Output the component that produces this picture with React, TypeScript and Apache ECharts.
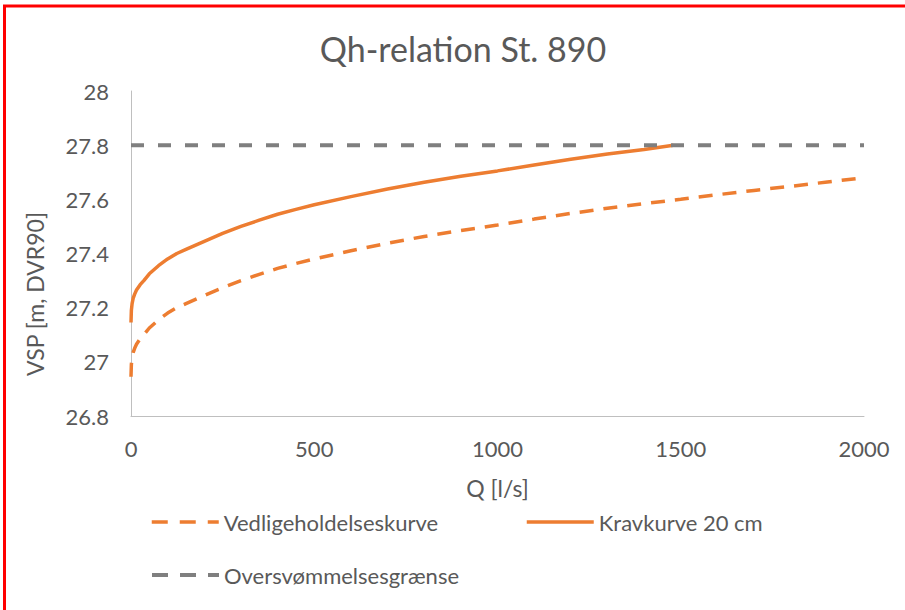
import React, { useEffect, useRef } from "react";
import * as echarts from "echarts";

const qVedligehold = [0, 1, 3, 6, 10, 15, 25, 35, 50, 75, 100, 125, 150, 200, 250, 300, 350, 400, 450, 500, 600, 700, 800, 900, 1000, 1100, 1200, 1300, 1400, 1500, 1600, 1700, 1800, 1900, 2000];
const hVedligehold = [26.945, 26.99, 27.015, 27.035, 27.05, 27.065, 27.085, 27.1, 27.125, 27.155, 27.18, 27.2, 27.215, 27.245, 27.274, 27.3, 27.323, 27.345, 27.363, 27.38, 27.41, 27.438, 27.463, 27.485, 27.505, 27.527, 27.548, 27.567, 27.584, 27.6, 27.617, 27.633, 27.648, 27.664, 27.68];

const qKrav = [0, 1, 3, 6, 10, 15, 25, 35, 50, 75, 100, 125, 150, 200, 250, 300, 350, 400, 450, 500, 600, 700, 800, 900, 1000, 1100, 1200, 1300, 1400, 1480];
const hKrav = [27.145, 27.19, 27.215, 27.235, 27.25, 27.265, 27.285, 27.3, 27.325, 27.355, 27.38, 27.4, 27.415, 27.445, 27.474, 27.5, 27.523, 27.545, 27.563, 27.58, 27.61, 27.638, 27.663, 27.685, 27.705, 27.727, 27.748, 27.767, 27.784, 27.8];

const qGraense = [0, 2000];
const hGraense = [27.8, 27.8];

const seriesNames = ["Vedligeholdelseskurve", "Kravkurve 20 cm", "Oversvømmelsesgrænse"];
const chartTitle = "Qh-relation St. 890";
const xTitle = "Q [l/s]";
const yTitle = "VSP [m, DVR90]";

const FONT = "Lato, 'Liberation Sans', sans-serif";
const TEXT = "#595959";
const ORANGE = "#ED7D31";
const GRAY = "#7F7F7F";

const zip = (xs: number[], ys: number[]) => xs.map((x, i) => [x, ys[i]]);

export default function App() {
  const ref = useRef<HTMLDivElement>(null);
  useEffect(() => {
    if (!ref.current) return;
    const chart = echarts.init(ref.current, undefined, { renderer: "svg" });
    const legendBase = {
      padding: 0,
      itemWidth: 67,
      itemHeight: 14,
      itemStyle: { opacity: 0 },
      textStyle: { color: TEXT, fontSize: 22, fontFamily: FONT },
    };
    chart.setOption({
      animation: false,
      backgroundColor: "#ffffff",
      title: {
        text: chartTitle,
        left: 458,
        top: 26,
        textAlign: "center",
        textStyle: { color: TEXT, fontSize: 34, fontWeight: "normal", fontFamily: FONT },
      },
      grid: { left: 131, right: 41, top: 91, bottom: 194, containLabel: false },
      xAxis: {
        type: "value",
        min: 0,
        max: 2000,
        interval: 500,
        name: xTitle,
        nameLocation: "middle",
        nameGap: 60,
        nameTextStyle: { color: TEXT, fontSize: 23, fontFamily: FONT },
        axisLine: { show: true, lineStyle: { color: "#BFBFBF", width: 1 } },
        axisTick: { show: false },
        splitLine: { show: false },
        axisLabel: {
          color: TEXT,
          fontSize: 22,
          fontFamily: FONT,
          margin: 21,
          formatter: (v: number) => String(v),
        },
      },
      yAxis: {
        type: "value",
        min: 26.8,
        max: 28,
        interval: 0.2,
        axisLine: { show: true, lineStyle: { color: "#BFBFBF", width: 1 } },
        axisTick: { show: false },
        splitLine: { show: false },
        axisLabel: { color: TEXT, fontSize: 22, fontFamily: FONT, margin: 22 },
      },
      legend: [
        {
          ...legendBase,
          data: [seriesNames[0]],
          left: 150,
          top: 511,
          lineStyle: { width: 3.5, type: [16, 12], color: ORANGE },
        },
        {
          ...legendBase,
          data: [seriesNames[1]],
          left: 525,
          top: 511,
          lineStyle: { width: 3.5, type: "solid", color: ORANGE },
        },
        {
          ...legendBase,
          data: [seriesNames[2]],
          left: 150,
          top: 564,
          lineStyle: { width: 4, type: [16, 12], color: GRAY },
        },
      ],
      graphic: [
        {
          type: "text",
          x: 35,
          y: 294,
          rotation: Math.PI / 2,
          style: {
            text: yTitle,
            fill: TEXT,
            fontSize: 23,
            fontFamily: FONT,
            align: "center",
            verticalAlign: "middle",
          },
        },
        {
          type: "polyline",
          shape: { points: [[4.5, 700], [4.5, 6], [1000, 6]] },
          style: { stroke: "#FF0000", lineWidth: 3, fill: "none" },
          silent: true,
        },
      ],
      series: [
        {
          name: seriesNames[0],
          type: "line",
          data: zip(qVedligehold, hVedligehold),
          symbol: "none",
          lineStyle: { color: ORANGE, width: 3.5, type: [14, 10] },
          itemStyle: { color: ORANGE },
        },
        {
          name: seriesNames[1],
          type: "line",
          data: zip(qKrav, hKrav),
          symbol: "none",
          lineStyle: { color: ORANGE, width: 3.5, type: "solid" },
          itemStyle: { color: ORANGE },
        },
        {
          name: seriesNames[2],
          type: "line",
          data: zip(qGraense, hGraense),
          symbol: "none",
          lineStyle: { color: GRAY, width: 4, type: [13, 14] },
          itemStyle: { color: GRAY },
        },
      ],
    });
    return () => chart.dispose();
  }, []);
  return (
    <div
      ref={ref}
      style={{ position: "fixed", left: 0, top: 0, width: 905, height: 610, background: "#fff" }}
    />
  );
}
